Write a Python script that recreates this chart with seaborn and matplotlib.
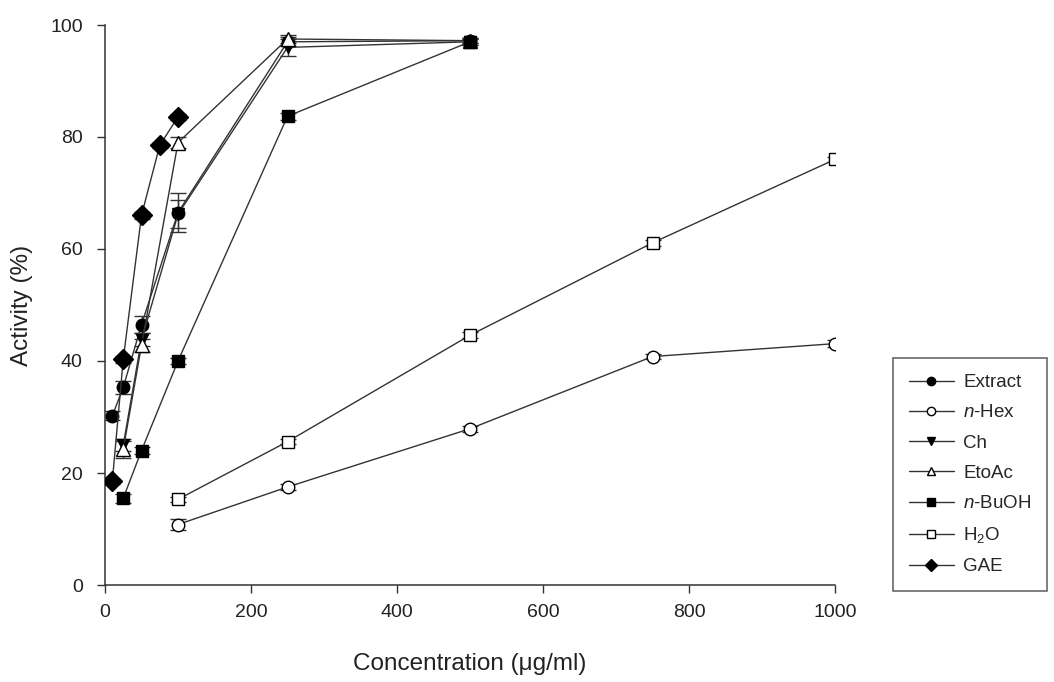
import matplotlib
matplotlib.use("Agg")
import matplotlib.pyplot as plt
import seaborn as sns
import pandas as pd

# ---- data ----
extract_x = [10, 25, 50, 100, 250, 500]
extract_y = [30.2, 35.3, 46.5, 66.5, 97.0, 97.2]
extract_err = [0.8, 1.2, 1.5, 3.5, 0.8, 0.5]

hex_x = [100, 250, 500, 750, 1000]
hex_y = [10.8, 17.5, 27.9, 40.8, 43.1]
hex_err = [1.0, 0.6, 0.5, 0.5, 0.6]

ch_x = [25, 50, 100, 250, 500]
ch_y = [25.0, 43.8, 66.2, 96.0, 97.0]
ch_err = [1.0, 1.2, 2.5, 1.5, 0.5]

eto_x = [25, 50, 100, 250, 500]
eto_y = [24.2, 42.8, 79.0, 97.5, 97.2]
eto_err = [1.5, 1.2, 1.0, 0.8, 0.5]

buoh_x = [25, 50, 100, 250, 500]
buoh_y = [15.5, 24.0, 40.0, 83.7, 97.0]
buoh_err = [0.8, 0.6, 0.6, 0.6, 0.5]

h2o_x = [100, 250, 500, 750, 1000]
h2o_y = [15.3, 25.6, 44.6, 61.1, 76.0]
h2o_err = [0.5, 0.5, 0.5, 0.5, 0.5]

gae_x = [10, 25, 50, 75, 100]
gae_y = [18.5, 40.3, 66.0, 78.5, 83.6]
gae_err = [0.5, 0.6, 0.6, 0.5, 0.5]

labels = ["Extract", r"$\mathit{n}$-Hex", "Ch", "EtoAc", r"$\mathit{n}$-BuOH", r"H$_2$O", "GAE"]
xlabel = "Concentration (\u03bcg/ml)"
ylabel = "Activity (%)"
xticks = [0, 200, 400, 600, 800, 1000]
yticks = [0, 20, 40, 60, 80, 100]

# ---- style ----
sns.set_theme(style="ticks")
plt.rcParams["font.family"] = ["Liberation Sans", "DejaVu Sans"]
plt.rcParams["mathtext.fontset"] = "custom"
plt.rcParams["mathtext.rm"] = "Liberation Sans"
plt.rcParams["mathtext.it"] = "Liberation Sans:italic"

fig = plt.figure(figsize=(10.54, 6.82), dpi=100)
ax = fig.add_axes([105 / 1054, 97 / 682, 730 / 1054, 560 / 682])

series = [
    (extract_x, extract_y, extract_err, "o", "black", 9),
    (hex_x, hex_y, hex_err, "o", "white", 9),
    (ch_x, ch_y, ch_err, "v", "black", 9),
    (eto_x, eto_y, eto_err, "^", "white", 9.5),
    (buoh_x, buoh_y, buoh_err, "s", "black", 9),
    (h2o_x, h2o_y, h2o_err, "s", "white", 9),
    (gae_x, gae_y, gae_err, "D", "black", 10),
]

line_c = "#333333"
for (xs, ys, es, mk, fc, ms), lab in zip(series, labels):
    df = pd.DataFrame({"x": xs, "y": ys})
    ax.errorbar(xs, ys, yerr=es, fmt="none", ecolor=line_c, elinewidth=1.0, capsize=6, capthick=1.0, zorder=2)
    sns.lineplot(data=df, x="x", y="y", ax=ax, color=line_c, linewidth=1.0,
                 marker=mk, markersize=ms, markerfacecolor=fc, markeredgecolor="black",
                 markeredgewidth=1.0, label=lab, zorder=3)

ax.set_xlim(0, 1000)
ax.set_ylim(0, 100)
ax.set_xticks(xticks)
ax.set_yticks(yticks)
ax.tick_params(axis="both", direction="out", length=6, width=1.0, colors="#333333",
               labelsize=14, labelcolor="#222222")
ax.tick_params(axis="y", pad=10)
ax.tick_params(axis="x", pad=8)
for s in ["top", "right"]:
    ax.spines[s].set_visible(False)
for s in ["left", "bottom"]:
    ax.spines[s].set_color("#333333")
    ax.spines[s].set_linewidth(1.1)

ax.set_xlabel(xlabel, fontsize=17.5, color="#222222", labelpad=23)
ax.set_ylabel(ylabel, fontsize=17.5, color="#222222", labelpad=12)

leg = ax.legend(loc="upper left", bbox_to_anchor=(893 / 1054, 1 - 358 / 682),
                bbox_transform=fig.transFigure, frameon=True, fancybox=False,
                fontsize=13.5, handlelength=2.4, labelspacing=0.7, borderpad=0.85,
                handletextpad=0.5, borderaxespad=0)
leg.get_frame().set_edgecolor("#333333")
leg.get_frame().set_linewidth(1.1)
for h in leg.legend_handles:
    h.set_markersize(6)

fig.savefig("out.png", dpi=100)
